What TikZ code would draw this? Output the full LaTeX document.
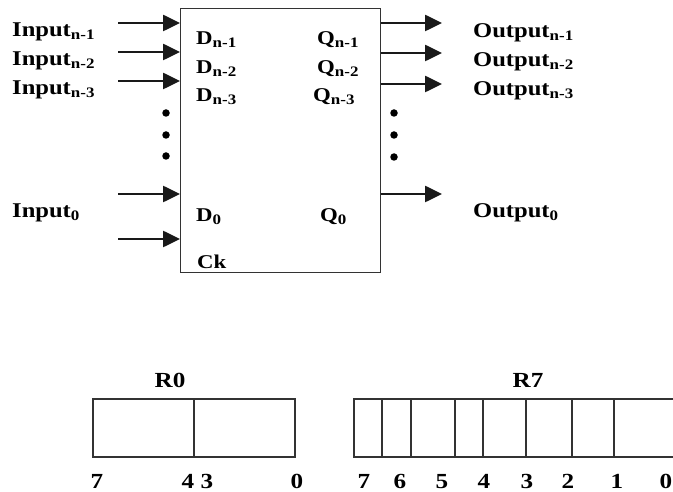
\documentclass[tikz,border=0pt]{standalone}
\usepackage{fontspec}
\setmainfont[FakeStretch=1.17]{Liberation Serif}
\usetikzlibrary{arrows.meta}
\newcommand{\sbs}[1]{\raisebox{-0.25ex}{\fontsize{14.5}{14}\selectfont #1}}
\begin{document}
\begin{tikzpicture}[x=1pt,y=-1pt,
  big/.style={font=\fontsize{21}{22}\selectfont\bfseries, inner sep=0pt, anchor=base west},
  pin/.style={font=\fontsize{19.5}{21}\selectfont\bfseries, inner sep=0pt, anchor=base west},
  bit/.style={font=\fontsize{21.5}{22}\selectfont\bfseries, inner sep=0pt, anchor=base},
  sig/.style={line width=2.6pt, draw=black!90, -{Triangle[length=17pt,width=16pt]}},
  frame/.style={draw=black!80, line width=1.4pt},
  dot/.style={circle, fill=black, inner sep=0pt, minimum size=7.5pt}]
\useasboundingbox (0,0) rectangle (673,492);
\clip (0,0) rectangle (673,492);

% flip-flop block
\node[frame, minimum width=200pt, minimum height=264pt, anchor=north west, inner sep=0pt] (ff) at (180,8) {};

% input labels
\node[big] (in1) at (12,37) {Input\sbs{n-1}};
\node[big] (in2) at (12,66) {Input\sbs{n-2}};
\node[big] (in3) at (12,95) {Input\sbs{n-3}};
\node[big] (in0) at (12,218) {Input\sbs{0}};

% pin labels
\node[pin] (d1) at (196,45) {D\sbs{n-1}};
\node[pin] (d2) at (196,74) {D\sbs{n-2}};
\node[pin] (d3) at (196,102) {D\sbs{n-3}};
\node[pin] (d0) at (196,222) {D\sbs{0}};
\node[pin] (ck) at (197,269) {Ck};
\node[pin] (q1) at (317,45) {Q\sbs{n-1}};
\node[pin] (q2) at (317,74) {Q\sbs{n-2}};
\node[pin] (q3) at (313,102) {Q\sbs{n-3}};
\node[pin] (q0) at (320,222) {Q\sbs{0}};

% output labels
\node[big] (o1) at (473,38) {Output\sbs{n-1}};
\node[big] (o2) at (473,67) {Output\sbs{n-2}};
\node[big] (o3) at (473,96) {Output\sbs{n-3}};
\node[big] (o0) at (473,218) {Output\sbs{0}};

% input arrows
\coordinate (a1) at (118,23);
\coordinate (a2) at (118,52);
\coordinate (a3) at (118,81);
\coordinate (a0) at (118,194);
\coordinate (ac) at (118,239);
\foreach \c in {a1,a2,a3,a0,ac} \draw[sig] (\c) -- (\c -| ff.west);

% output arrows
\coordinate (b1) at (442,23);
\coordinate (b2) at (442,53);
\coordinate (b3) at (442,84);
\coordinate (b0) at (442,194);
\foreach \c in {b1,b2,b3,b0} \draw[sig] (\c -| ff.east) -- (\c);

% dots
\node[dot] (l1) at (166,113) {};
\node[dot] (l2) at (166,135) {};
\node[dot] (l3) at (166,156) {};
\node[dot] (r1) at (394,113) {};
\node[dot] (r2) at (394,135) {};
\node[dot] (r3) at (394,157) {};

% register R0
\node[bit] (r0name) at (170,387) {R0};
\draw[frame] (93,399) rectangle (295,457);
\draw[frame] (194,399) -- (194,457);
\node[bit] (r0b7) at (97,488) {7};
\node[bit] (r0b4) at (188,488) {4};
\node[bit] (r0b3) at (207,488) {3};
\node[bit] (r0b0) at (297,488) {0};

% register R7
\node[bit] (r7name) at (528,387) {R7};
\draw[frame] (354,399) rectangle (700,457);
\foreach \x in {382,411,455,483,526,572,614} \draw[frame] (\x,399) -- (\x,457);
\foreach \x/\b in {364/7,400/6,442/5,484/4,527/3,568/2,617/1,666/0}
  \node[bit] (r7b\b) at (\x,488) {\b};
\end{tikzpicture}
\end{document}
